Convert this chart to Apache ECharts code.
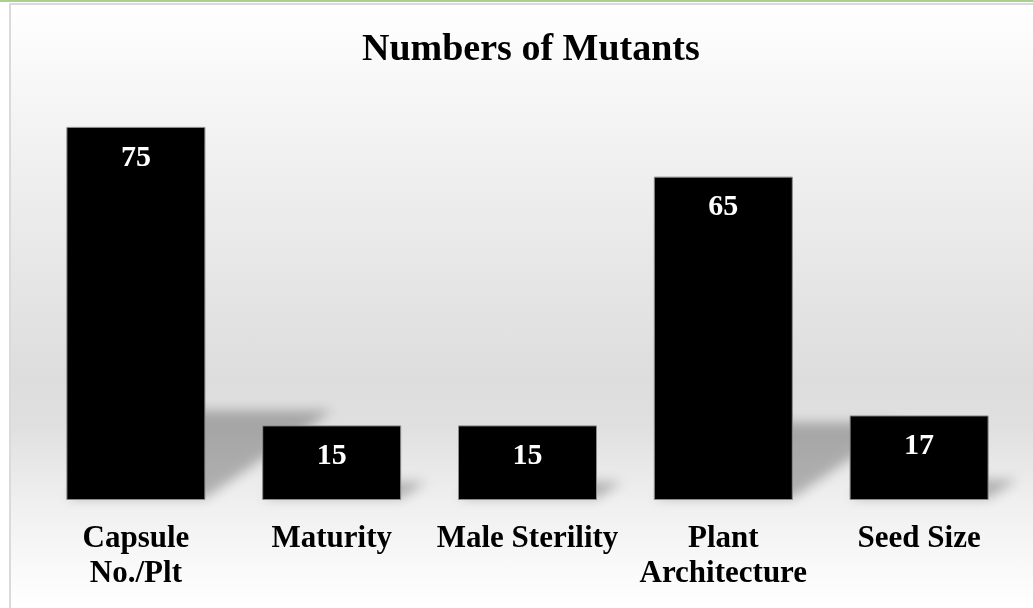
<!DOCTYPE html>
<html>
<head>
<meta charset="utf-8">
<title>Numbers of Mutants</title>
<script src="https://cdn.jsdelivr.net/npm/echarts@6.0.0/dist/echarts.min.js"></script>
<style>
  html, body { margin: 0; padding: 0; width: 1033px; height: 608px; overflow: hidden; background: #fff; }
  #topline { position: absolute; left: 0; top: 0; width: 1033px; height: 2px; background: #a9d08e; }
  #frame {
    position: absolute; left: 9px; top: 3px; right: 0; bottom: 0;
    border-left: 2px solid #dadada; border-top: 2px solid #dadada;
    background: linear-gradient(to bottom, #ffffff 0%, #f2f2f2 22%, #dddddd 62%, #e0e0e0 70%, #efefef 82%, #ffffff 100%);
  }
  #main { position: absolute; left: 0; top: 0; width: 1033px; height: 608px; }
</style>
</head>
<body>
<div id="topline"></div>
<div id="frame"></div>
<div id="main"></div>
<script>
// 数据
var categories = ['Capsule\nNo./Plt', 'Maturity', 'Male Sterility', 'Plant\nArchitecture', 'Seed Size'];
var mutants = [75, 15, 15, 65, 17];

var serif = '"Liberation Serif", "Times New Roman", serif';
var barW = 139;
var away = 3000; // 阴影形状画在画布外，只留下模糊的影子

var myChart = echarts.init(document.getElementById('main'));

// 透视阴影：由柱子本身的坐标算出
function renderShadow(params, api) {
    var top = api.coord([api.value(0), api.value(1)]);
    var base = api.coord([api.value(0), 0]);
    var h = base[1] - top[1];
    var sh = h * 0.24, sk = h * 0.34;
    var half = barW / 2;
    var x0 = base[0] - away;
    return {
        type: 'polygon',
        shape: {
            points: [
                [x0 - half, base[1] - 2],
                [x0 + half, base[1] - 2],
                [x0 + half + sk, base[1] - sh],
                [x0 - half + sk, base[1] - sh]
            ]
        },
        style: {
            fill: '#000',
            shadowBlur: 12,
            shadowColor: 'rgba(0,0,0,0.26)',
            shadowOffsetX: away,
            shadowOffsetY: 0
        }
    };
}

myChart.setOption({
    backgroundColor: 'transparent',
    title: {
        text: 'Numbers of Mutants',
        left: 357,
        top: 26,
        textStyle: { fontFamily: serif, fontWeight: 'bold', fontSize: 38, lineHeight: 38, color: '#000' }
    },
    grid: { left: 38, right: 16, top: 102, bottom: 108 },
    xAxis: {
        type: 'category',
        data: categories,
        axisLine: { show: false },
        axisTick: { show: false },
        axisLabel: {
            interval: 0,
            margin: 21,
            fontFamily: serif,
            fontWeight: 'bold',
            fontSize: 31,
            lineHeight: 35,
            color: '#000'
        }
    },
    yAxis: {
        type: 'value',
        min: 0,
        max: 80,
        show: false,
        splitLine: { show: false }
    },
    series: [
        {
            type: 'custom',
            renderItem: renderShadow,
            data: mutants.map(function (v, i) { return [i, v]; }),
            encode: { x: 0, y: 1 },
            clip: false,
            z: 1,
            silent: true
        },
        {
            type: 'bar',
            data: mutants,
            barWidth: barW,
            z: 2,
            itemStyle: { color: '#000', borderColor: '#8c8c8c', borderWidth: 1 },
            label: {
                show: true,
                position: 'insideTop',
                distance: 16,
                color: '#fff',
                fontFamily: serif,
                fontWeight: 'bold',
                fontSize: 30,
                lineHeight: 30
            }
        }
    ]
});
</script>
</body>
</html>
